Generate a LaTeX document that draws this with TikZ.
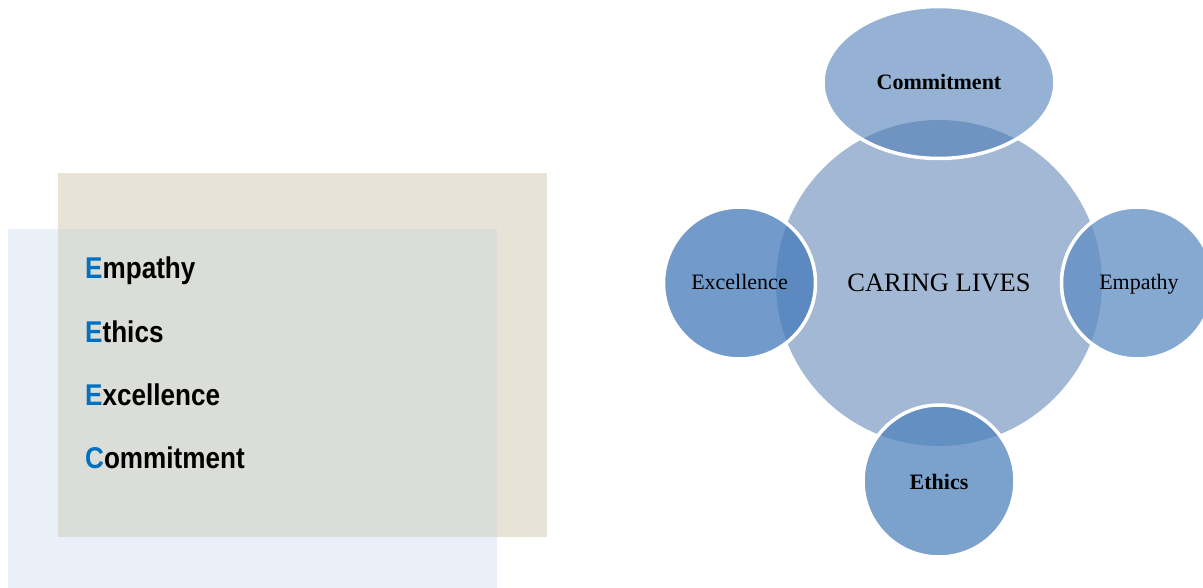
\documentclass[tikz,border=0pt]{standalone}
\usepackage{fontspec}
\setmainfont{Liberation Serif}
\newfontfamily\listfont{Liberation Sans}
\usetikzlibrary{shapes.geometric}
\definecolor{beige}{RGB}{231,228,215}
\definecolor{paleblue}{RGB}{234,240,247}
\definecolor{mixgrey}{RGB}{219,221,216}
\definecolor{letterblue}{RGB}{0,112,192}
\definecolor{bigc}{RGB}{163,184,212}
\definecolor{commc}{RGB}{78,125,182}
\definecolor{excc}{RGB}{67,122,186}
\definecolor{empc}{RGB}{94,140,195}
\definecolor{ethc}{RGB}{79,130,188}
\tikzset{
  listitem/.style={anchor=base west, inner sep=0pt, font=\listfont\bfseries\fontsize{30}{36}\selectfont},
  petal/.style={circle, minimum size=152pt, inner sep=0pt, draw=white, line width=3.5pt, fill opacity=0.75, text opacity=1},
  label/.style={anchor=base, inner sep=0pt, font=\fontsize{22}{26}\selectfont},
}
\newcommand{\initial}[2]{\scalebox{0.87}[1]{\textcolor{letterblue}{#1}#2}}
\begin{document}
\begin{tikzpicture}[x=1pt,y=-1pt]
\useasboundingbox (0,0) rectangle (1203,588);
% left panel
\fill[beige] (58,173) rectangle (547,537);
\fill[paleblue] (8,229) rectangle (497,588);
\fill[mixgrey] (58,229) rectangle (497,537);
\node[listitem] (l1) at (85,279) {\initial{E}{mpathy}};
\node[listitem] (l2) at (85,342) {\initial{E}{thics}};
\node[listitem] (l3) at (85,405) {\initial{E}{xcellence}};
\node[listitem] (l4) at (85,468) {\initial{C}{ommitment}};
% right diagram
\node[circle, minimum size=326pt, inner sep=0pt, fill=bigc] (core) at (939,283) {};
\node[anchor=base, inner sep=0pt, font=\fontsize{26.5}{30}\selectfont] (coretext) at (939,292) {CARING LIVES};
\node[petal, ellipse, minimum width=232pt, minimum height=152pt, fill=commc, fill opacity=0.6] (comm) at (939,82.5) {};
\node[petal, fill=excc] (exc) at (739.5,283) {};
\node[petal, fill=empc] (emp) at (1137.5,283) {};
\node[petal, fill=ethc] (eth) at (939,481) {};
\node[label, font=\bfseries\fontsize{22}{26}\selectfont] (commt) at (939,90) {Commitment};
\node[label] (exct) at (739.5,290) {Excellence};
\node[label] (empt) at (1139,290) {Empathy};
\node[label, font=\bfseries\fontsize{22}{26}\selectfont] (etht) at (939,489) {Ethics};
\end{tikzpicture}
\end{document}
